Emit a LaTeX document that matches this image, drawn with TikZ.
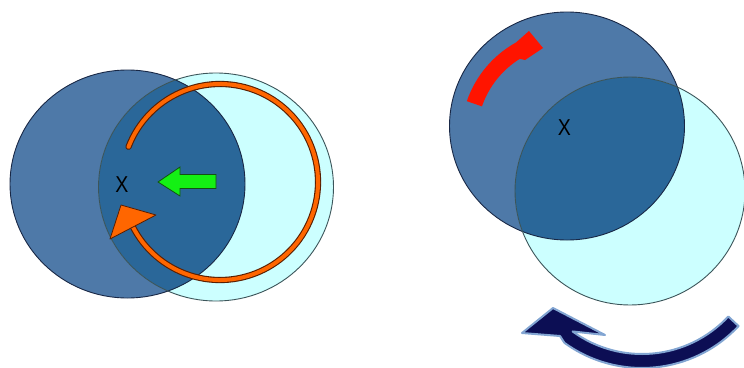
\documentclass[tikz,border=0pt]{standalone}
\usepackage{fontspec}
\setmainfont{Liberation Sans}
\usetikzlibrary{calc}
\definecolor{darkblue}{RGB}{78,121,168}
\definecolor{overlapblue}{RGB}{42,103,153}
\definecolor{lightcyan}{RGB}{204,255,255}
\definecolor{darkedge}{RGB}{25,40,70}
\definecolor{lightedge}{RGB}{60,85,90}
\definecolor{ringorange}{RGB}{255,102,0}
\definecolor{ringedge}{RGB}{90,30,0}
\definecolor{greenarrow}{RGB}{20,240,20}
\definecolor{greenedge}{RGB}{20,80,20}
\definecolor{redarrow}{RGB}{255,20,0}
\definecolor{navyarrow}{RGB}{12,14,84}
\definecolor{glowblue}{RGB}{130,165,210}
\begin{document}
\begin{tikzpicture}[x=1pt,y=-1pt,
  darkdisc/.style={fill=darkblue},
  lightdisc/.style={fill=lightcyan},
  lbl/.style={font=\fontsize{23}{23}\selectfont, inner sep=0pt, xscale=0.85}]
\useasboundingbox (0,0) rectangle (744,367);
\clip (0,0) rectangle (744,367);

% ---------- left figure ----------
\coordinate (LD) at (127.5,184);
\coordinate (LL) at (216,187);
\fill[darkdisc] (LD) ellipse [x radius=117.5, y radius=114];
\fill[lightdisc] (LL) ellipse [x radius=117.5, y radius=114];
\begin{scope}
  \clip (LD) ellipse [x radius=117.5, y radius=114];
  \fill[overlapblue] (LL) ellipse [x radius=117.5, y radius=114];
\end{scope}
\draw[darkedge, line width=0.9] (LD) ellipse [x radius=117.5, y radius=114];
\draw[lightedge, line width=0.9] (LL) ellipse [x radius=117.5, y radius=114];

% orange ring arrow
\coordinate (RC) at (220,182);
\draw[ringedge, line width=6.2, line cap=round] ($(RC)+(201:98)$) arc[start angle=201, end angle=516, radius=98];
\draw[ringorange, line width=4, line cap=round] ($(RC)+(201:98)$) arc[start angle=201, end angle=516, radius=98];
\filldraw[fill=ringorange, draw=ringedge, line width=0.8, line join=round]
  (110,239) -- (121,205) -- (156,215) -- cycle;

% green block arrow
\filldraw[fill=greenarrow, draw=greenedge, line width=0.8, line join=miter]
  (158,182) -- (180,167) -- (180,174.5) -- (216,174.5) -- (216,188.5) -- (180,188.5) -- (180,196) -- cycle;

\node[lbl] (lx) at (122,185) {X};

% ---------- right figure ----------
\coordinate (RD) at (567,126);
\coordinate (RL) at (630,191);
\fill[darkdisc] (RD) ellipse [x radius=117.5, y radius=114];
\fill[lightdisc] (RL) ellipse [x radius=115, y radius=114];
\begin{scope}
  \clip (RD) ellipse [x radius=117.5, y radius=114];
  \fill[overlapblue] (RL) ellipse [x radius=115, y radius=114];
\end{scope}
\draw[darkedge, line width=0.9] (RD) ellipse [x radius=117.5, y radius=114];
\draw[lightedge, line width=0.9] (RL) ellipse [x radius=115, y radius=114];

% red curved arrow
\coordinate (AC) at (568,136);
\fill[redarrow] ($(AC)+(-161:107)$) arc[start angle=-161, end angle=-119, radius=107]
  -- (529,31) -- (543,48) -- (525,60)
  -- ($(AC)+(-122:91)$) arc[start angle=-122, end angle=-161, radius=91] -- cycle;

\node[lbl] (rx) at (564.5,127.7) {X};

% navy curved arrow
\coordinate (NC) at (642,236);
\filldraw[fill=navyarrow, draw=glowblue, line width=2, line join=round]
  ($(NC)+(43:118)$) arc[start angle=43, end angle=126, radius=118]
  -- (605,335) -- (553,308) -- (522,333) -- (560,336)
  -- ($(NC)+(126:132)$) arc[start angle=126, end angle=43, radius=132] -- cycle;
\end{tikzpicture}
\end{document}
